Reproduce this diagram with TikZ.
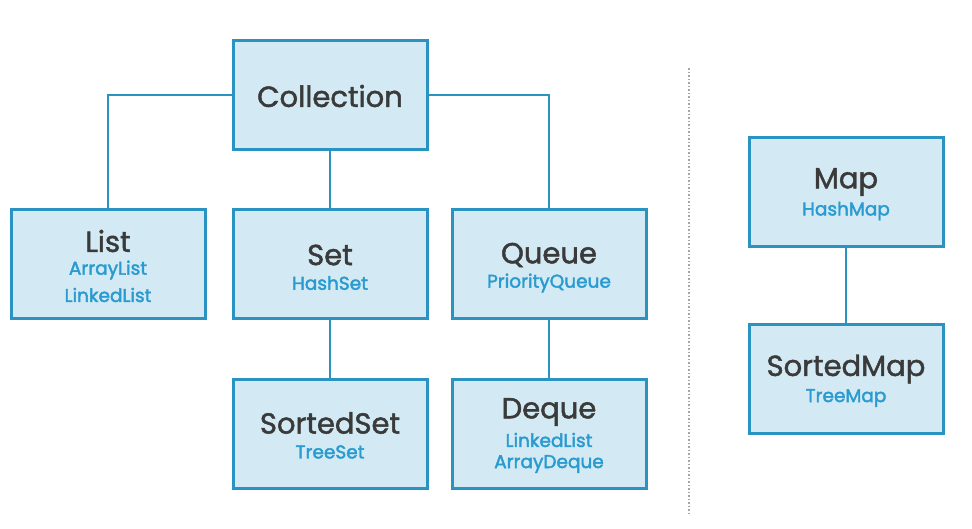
\documentclass[tikz,border=0pt]{standalone}
\usepackage{fontspec}
\setmainfont{Poppins}
% medium-weight faces built from the regular one
\newfontfamily\medfont{Poppins}[BoldFont=Poppins,BoldFeatures={FakeBold=1.6}]
\newfontfamily\subfont{Poppins}[BoldFont=Poppins,BoldFeatures={FakeBold=2.2}]
\definecolor{boxfill}{HTML}{D3EAF4}
\definecolor{boxline}{HTML}{2A93C2}
\definecolor{titlecol}{HTML}{3A3A3A}
\definecolor{subcol}{HTML}{2A9BD0}
\begin{document}
\begin{tikzpicture}[x=1pt,y=-1pt,
  cbox/.style={draw=boxline,fill=boxfill,line width=3pt,minimum width=194pt,minimum height=109pt,inner sep=0pt},
  ttl/.style={text=titlecol,font=\medfont\bfseries\fontsize{29}{32}\selectfont,inner sep=0pt},
  sub/.style={text=subcol,font=\subfont\bfseries\fontsize{18.5}{22}\selectfont,inner sep=0pt},
  link/.style={draw=boxline,line width=2pt}]
\useasboundingbox[fill=white] (0,0) rectangle (972,528);
% boxes
\node[cbox] (coll) at (330,95) {};
\node[cbox] (list) at (108,264) {};
\node[cbox] (set) at (330,264) {};
\node[cbox] (queue) at (549,264) {};
\node[cbox] (sset) at (330,434) {};
\node[cbox] (deque) at (549,434) {};
\node[cbox] (map) at (846,192) {};
\node[cbox] (smap) at (846,379) {};
% connectors
\draw[link] (coll.west) -| (list.north);
\draw[link] (coll.east) -| (queue.north);
\draw[link] (coll.south) -- (set.north);
\draw[link] (set.south) -- (sset.north);
\draw[link] (queue.south) -- (deque.north);
\draw[link] (map.south) -- (smap.north);
% separator
\coordinate (septop) at (689,68);
\coordinate (sepbot) at (689,515);
\draw[gray!70,line width=1.5pt,dotted] (septop) -- (sepbot);
% labels
\node[ttl] (tcoll) at (330,96) {Collection};
\node[ttl] (tlist) at (108,241) {List};
\node[sub] (slist1) at (108,270) {ArrayList};
\node[sub] (slist2) at (108,295) {LinkedList};
\node[ttl] (tset) at (330,255) {Set};
\node[sub] (sset1) at (330,283) {HashSet};
\node[ttl] (tqueue) at (549,255) {Queue};
\node[sub] (squeue1) at (549,283) {PriorityQueue};
\node[ttl] (tsset) at (330,423) {SortedSet};
\node[sub] (ssset1) at (330,452) {TreeSet};
\node[ttl] (tdeque) at (549,412) {Deque};
\node[sub] (sdeque1) at (549,440) {LinkedList};
\node[sub] (sdeque2) at (549,464) {ArrayDeque};
\node[ttl] (tmap) at (846,182) {Map};
\node[sub] (smap1) at (846,211) {HashMap};
\node[ttl] (tsmap) at (846,369) {SortedMap};
\node[sub] (ssmap1) at (846,398) {TreeMap};
\end{tikzpicture}
\end{document}
